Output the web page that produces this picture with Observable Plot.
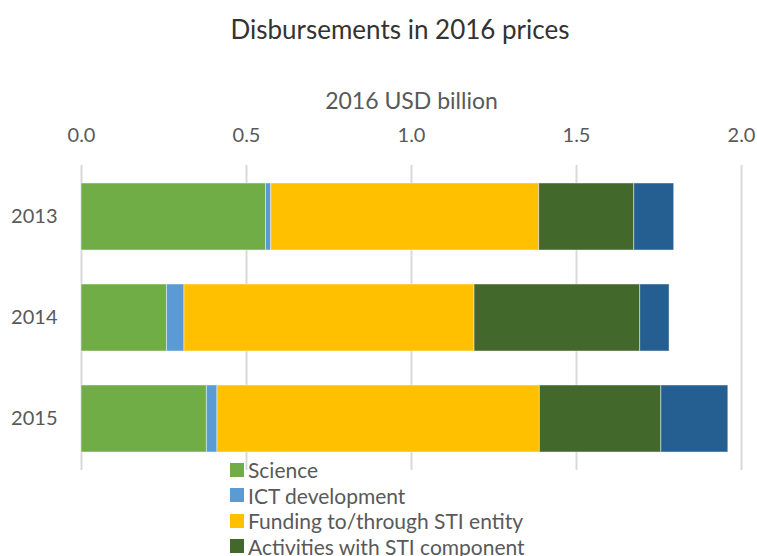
<!DOCTYPE html>
<html>
<head>
<meta charset="utf-8">
<script src="https://cdn.jsdelivr.net/npm/d3@7"></script>
<script src="https://cdn.jsdelivr.net/npm/@observablehq/plot@0.6"></script>
<style>
  html, body { margin: 0; padding: 0; background: #fff; width: 757px; height: 556px; overflow: hidden; }
  body { position: relative; font-family: Lato, "Open Sans", sans-serif; }
  #title { position: absolute; left: 0; width: 800px; top: 13px; text-align: center; font-size: 26px; color: #333333; }
  #chart { position: absolute; left: 0; top: 0; }
  #legend { position: absolute; left: 230px; top: 457px; font-size: 21px; color: #595959; }
  .row { height: 25.5px; line-height: 25.5px; display: flex; align-items: center; white-space: nowrap; }
  .sw { width: 14px; height: 14px; margin-right: 4px; flex: none; }
</style>
</head>
<body>
<div id="title">Disbursements in 2016 prices</div>
<div id="chart"></div>
<div id="legend"></div>
<script>
const years = ["2013", "2014", "2015"];
const categories = ["Science", "ICT development", "Funding to/through STI entity", "Activities with STI component", "Other STI-related"];
const colors = ["#70AD47", "#5B9BD5", "#FFC000", "#43682B", "#255E91"];
const science = [0.559, 0.259, 0.380];
const ict = [0.016, 0.053, 0.032];
const funding = [0.812, 0.879, 0.977];
const activities = [0.288, 0.502, 0.368];
const other = [0.121, 0.089, 0.203];
const xTicks = [0, 0.5, 1.0, 1.5, 2.0];
const axisLabel = "2016 USD billion";

const series = [science, ict, funding, activities, other];
const data = [];
categories.forEach((c, i) => years.forEach((y, j) => data.push({year: y, category: c, value: series[i][j]})));

const plot = Plot.plot({
  width: 757,
  height: 480,
  marginTop: 165,
  marginBottom: 10,
  marginLeft: 81,
  marginRight: 16,
  style: {fontFamily: "Lato, 'Open Sans', sans-serif", fontSize: "20px", color: "#595959", background: "transparent"},
  x: {domain: [0, 2]},
  y: {domain: years, paddingInner: 0.34, paddingOuter: 0.17},
  color: {domain: categories, range: colors},
  marks: [
    Plot.gridX(xTicks, {stroke: "#d9d9d9", strokeOpacity: 1, strokeWidth: 2}),
    Plot.axisX(xTicks, {anchor: "top", tickSize: 0, tickPadding: 24, tickFormat: d3.format(".1f"), label: null, fontSize: 20, fill: "#595959"}),
    Plot.axisY({tickSize: 0, tickPadding: 24, label: null, fontSize: 20, fill: "#595959"}),
    Plot.barX(data, Plot.stackX({y: "year", x: "value", fill: "category", stroke: "#ffffff", strokeOpacity: 0.45, strokeWidth: 1})),
    Plot.text([axisLabel], {frameAnchor: "top", dy: -64, text: d => d, fontSize: 23, fill: "#595959", lineAnchor: "middle"})
  ]
});
document.getElementById("chart").appendChild(plot);

const legend = document.getElementById("legend");
categories.forEach((c, i) => {
  const row = document.createElement("div");
  row.className = "row";
  const sw = document.createElement("span");
  sw.className = "sw";
  sw.style.background = colors[i];
  const t = document.createElement("span");
  t.textContent = c;
  row.appendChild(sw);
  row.appendChild(t);
  legend.appendChild(row);
});
</script>
</body>
</html>
